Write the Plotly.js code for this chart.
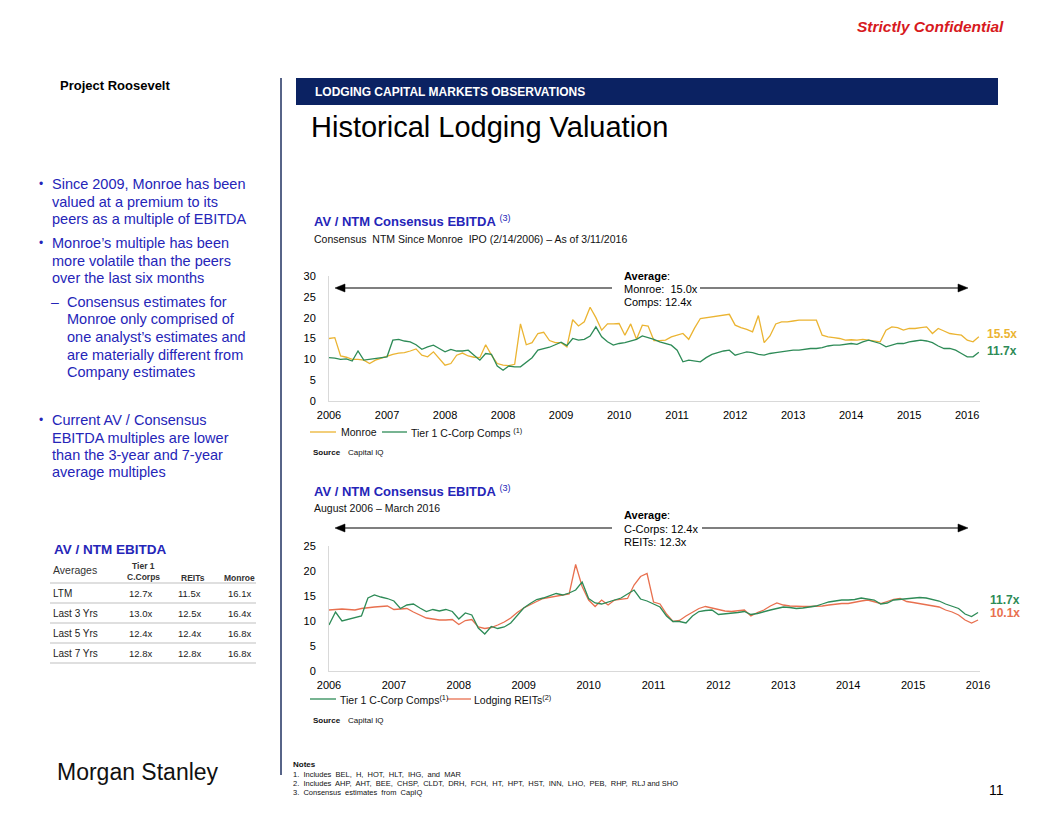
<!DOCTYPE html>
<html><head><meta charset="utf-8">
<script src="https://cdn.plot.ly/plotly-3.0.1.min.js"></script>
<style>html,body{margin:0;padding:0;background:#fff}#chart{width:1056px;height:816px}</style>
</head><body><div id="chart"></div>
<script>
// ---------- DATA ----------
const topTickLabels = ["2006","2007","2008","2008","2009","2010","2011","2012","2013","2014","2015","2016"];
const bottomTickLabels = ["2006","2007","2008","2009","2010","2011","2012","2013","2014","2015","2016"];

// Top chart: AV / NTM consensus EBITDA, sampled every 0.1 of a tick interval
const monroe = [
 15.0,15.2,10.8,10.5,10.0,10.0,9.8,9.0,9.8,10.3,
 10.8,11.2,11.5,11.6,12.0,12.5,11.0,10.6,11.8,10.2,
 8.6,9.0,11.0,11.5,10.8,10.5,10.4,13.5,11.0,9.0,
 8.6,8.5,8.8,18.5,13.5,14.0,16.2,16.5,14.5,14.0,
 14.0,13.0,19.5,18.0,19.0,22.5,20.0,17.0,18.5,18.5,
 18.6,15.8,18.5,14.8,18.2,18.0,14.5,14.5,14.6,15.4,
 15.8,16.2,14.8,17.5,19.8,20.0,20.2,20.4,20.6,20.8,
 18.2,17.6,17.2,16.6,20.5,14.0,15.6,18.5,19.0,19.0,
 19.2,19.4,19.4,19.4,19.4,15.8,15.4,15.2,15.0,14.6,
 14.7,14.6,14.8,14.6,14.4,14.2,17.0,17.8,17.6,17.0,
 17.4,17.4,17.6,17.8,16.2,17.4,16.8,16.2,16.0,15.8,
 14.6,14.2,15.4];
const topComps = [
 10.4,10.3,10.0,10.1,9.6,12.0,9.8,10.0,10.3,10.4,
 10.6,14.6,14.8,14.4,14.2,13.5,12.4,13.0,13.4,12.6,
 11.8,12.4,12.0,12.0,12.2,11.0,9.8,11.4,11.2,8.4,
 7.4,8.4,8.2,8.2,9.4,10.4,12.2,12.6,12.9,13.5,
 14.1,13.3,15.0,14.6,14.8,15.6,17.8,15.4,14.2,13.4,
 13.8,14.0,14.4,14.8,15.6,15.2,14.8,14.2,13.8,13.4,
 12.2,9.4,9.8,9.6,9.4,10.4,11.2,11.6,12.0,12.2,
 11.0,11.4,11.8,11.6,11.2,11.0,11.4,11.6,11.8,12.0,
 12.2,12.2,12.4,12.6,12.6,12.8,13.2,13.4,13.4,13.6,
 13.8,13.6,14.2,14.6,14.2,13.8,13.0,13.4,13.8,13.8,
 14.2,14.4,14.6,14.4,14.0,13.2,12.6,12.6,12.2,11.4,
 10.6,10.6,11.7];

// Bottom chart: Tier 1 C-Corp comps vs Lodging REITs
const cCorps = [
 9.2,11.8,10.0,10.3,10.6,11.0,14.6,15.2,14.8,14.5,
 14.0,12.5,13.2,13.4,12.6,11.9,12.3,12.0,12.3,11.9,
 10.4,11.6,11.2,8.6,7.4,8.9,8.5,8.8,9.6,11.2,
 12.6,13.5,14.3,14.6,15.0,15.5,15.2,15.6,16.2,17.8,
 14.5,13.6,13.4,13.8,14.2,14.6,15.4,16.2,14.4,14.0,
 13.4,12.8,11.0,9.9,9.9,9.6,11.0,11.9,12.1,12.2,
 11.3,11.4,11.5,11.7,11.9,11.3,11.5,11.9,12.2,12.5,
 12.8,12.7,12.5,12.6,12.8,13.0,13.4,13.8,14.0,14.2,
 14.2,14.3,14.6,14.4,14.2,13.4,13.6,14.2,14.3,14.5,
 14.6,14.7,14.6,14.3,14.0,13.4,12.9,12.5,11.4,10.9,
 11.7];
const reits = [
 12.2,12.3,12.4,12.3,12.2,12.5,12.7,12.8,12.9,13.0,
 12.3,12.4,12.5,11.8,11.2,10.6,10.4,10.2,10.2,10.3,
 9.3,10.1,10.3,8.8,8.5,8.7,9.2,9.8,10.6,11.7,
 12.6,13.3,13.9,14.5,14.7,14.9,15.1,15.4,21.3,16.9,
 14.2,12.9,14.2,13.2,14.2,14.3,14.5,17.2,18.9,19.5,
 13.8,13.4,11.4,9.9,10.1,11.0,11.8,12.5,12.9,12.6,
 12.2,12.0,11.9,12.0,12.2,11.0,11.7,12.2,13.0,13.6,
 13.2,13.0,12.9,12.9,12.9,12.9,13.0,13.2,13.4,13.5,
 13.5,13.8,14.0,14.2,13.8,13.5,13.9,14.3,14.5,13.9,
 13.7,13.5,13.3,13.0,12.8,12.2,11.8,11.2,10.2,9.6,
 10.2];

// Table: AV / NTM EBITDA averages
const tableRowLabels = ["LTM","Last 3 Yrs","Last 5 Yrs","Last 7 Yrs"];
const tableCCorps = ["12.7x","13.0x","12.4x","12.8x"];
const tableREITs  = ["11.5x","12.5x","12.4x","12.8x"];
const tableMonroe = ["16.1x","16.4x","16.8x","16.8x"];

const topAverages = ["Monroe:  15.0x","Comps: 12.4x"];
const bottomAverages = ["C-Corps: 12.4x","REITs: 12.3x"];
const topEndLabels = ["15.5x","11.7x"];
const bottomEndLabels = ["11.7x","10.1x"];

// ---------- STYLE ----------
const W = 1056, H = 816;
const FONT = "Liberation Sans, Arial, sans-serif";
const C_MON = "#EBB432", C_GRN = "#2E8B57", C_RED = "#E8704F";
const BLUE = "#2525B8", NAVY = "#0B2262";
const px = x => x / W, py = y => 1 - y / H;

const anns = [];
function T(text, x, y, size, color, o) {
  o = o || {};
  anns.push(Object.assign({
    text: text, x: px(x), y: py(y), xref: "paper", yref: "paper",
    xanchor: "left", yanchor: "middle", showarrow: false,
    font: {family: FONT, size: size, color: color || "#000"}
  }, o));
}
const shapes = [];
function L(x0, y0, x1, y1, color, w) {
  shapes.push({type: "line", xref: "paper", yref: "paper", x0: px(x0), y0: py(y0), x1: px(x1), y1: py(y1),
    line: {color: color, width: w || 1}});
}
function arrow(xHead, xTail, y) {
  const dir = xTail > xHead ? 1 : -1;
  const back = xHead + dir * 10;
  L(back, y, xTail, y, "#000", 1.2);
  shapes.push({type: "path", xref: "paper", yref: "paper",
    path: "M " + px(xHead) + " " + py(y) + " L " + px(back) + " " + py(y - 4) + " L " + px(back) + " " + py(y + 4) + " Z",
    fillcolor: "#000", line: {color: "#000", width: 0.5}});
}

// page furniture
shapes.push({type: "rect", xref: "paper", yref: "paper", x0: px(296), x1: px(998), y0: py(105), y1: py(78),
  fillcolor: NAVY, line: {width: 0}});
L(281, 78, 281, 775, "#1F3161", 1.5);
T("<b><i>Strictly Confidential</i></b>", 1006, 26, 15.5, "#D71920", {xanchor: "right"});
T("<b>Project Roosevelt</b>", 58, 86, 13, "#000");
T("<b>LODGING CAPITAL MARKETS OBSERVATIONS</b>", 313, 92, 12, "#fff");
T("Historical Lodging Valuation", 309, 127, 29, "#000");
T("Morgan Stanley", 55, 772, 23, "#111");
T("11", 1006, 790, 14, "#000", {xanchor: "right"});

// left bullets
const bulletLines = [
  ["•", "Since 2009, Monroe has been", 184, 0],
  ["", "valued at a premium to its", 202, 0],
  ["", "peers as a multiple of EBITDA", 219, 0],
  ["•", "Monroe’s multiple has been", 243, 0],
  ["", "more volatile than the peers", 261, 0],
  ["", "over the last six months", 278, 0],
  ["–", "Consensus estimates for", 302, 1],
  ["", "Monroe only comprised of", 319, 1],
  ["", "one analyst’s estimates and", 337, 1],
  ["", "are materially different from", 355, 1],
  ["", "Company estimates", 372, 1],
  ["•", "Current AV / Consensus", 420, 0],
  ["", "EBITDA multiples are lower", 438, 0],
  ["", "than the 3-year and 7-year", 455, 0],
  ["", "average multiples", 472, 0]
];
bulletLines.forEach(b => {
  const indent = b[3] ? 15 : 0;
  if (b[0]) T(b[0], b[3] ? 49 : 37, b[2], b[3] ? 14 : 12, BLUE);
  T(b[1], 50 + indent, b[2], 14.5, BLUE);
});

// table
T("<b>AV / NTM EBITDA</b>", 52, 549, 13.5, BLUE);
T("Averages", 51, 570, 10.5, "#333");
T("<b>Tier 1</b>", 143, 566, 8.5, "#333", {xanchor: "center"});
T("<b>C.Corps</b>", 143, 577, 8.5, "#333", {xanchor: "center"});
T("<b>REITs</b>", 193, 578, 8.5, "#333", {xanchor: "center"});
T("<b>Monroe</b>", 239, 578, 8.5, "#333", {xanchor: "center"});
L(50, 583, 256, 583, "#BFBFBF", 1);
tableRowLabels.forEach((lab, i) => {
  const y = 593 + i * 20;
  T(lab, 51, y, 10, "#222");
  T(tableCCorps[i], 154, y, 9.5, "#222", {xanchor: "right"});
  T(tableREITs[i], 203, y, 9.5, "#222", {xanchor: "right"});
  T(tableMonroe[i], 253, y, 9.5, "#222", {xanchor: "right"});
  L(50, 603 + i * 20, 256, 603 + i * 20, "#BFBFBF", 1);
});

// top chart text
T("<b>AV / NTM Consensus EBITDA</b> <sup>(3)</sup>", 312, 221, 13, BLUE);
T("Consensus  NTM Since Monroe  IPO (2/14/2006) – As of 3/11/2016", 312, 239, 10.5, "#111");
T("<b>Average</b>:", 622, 276, 11, "#000");
T(topAverages[0], 622, 289, 11, "#000");
T(topAverages[1], 622, 302, 11, "#000");
arrow(335, 612, 288);
arrow(968, 700, 288);
T("<b>" + topEndLabels[0] + "</b>", 985, 334, 12, C_MON);
T("<b>" + topEndLabels[1] + "</b>", 985, 351, 12, C_GRN);
L(310, 432, 336, 432, C_MON, 1.3);
T("Monroe", 339, 432, 10.5, "#111");
L(382, 432, 407, 432, C_GRN, 1.3);
T("Tier 1 C-Corp Comps <sup>(1)</sup>", 409, 432, 10.5, "#111");
T("<b>Source</b>", 311, 452, 8, "#111");
T("Capital IQ", 346, 452, 8, "#111");

// bottom chart text
T("<b>AV / NTM Consensus EBITDA</b> <sup>(3)</sup>", 312, 491, 13, BLUE);
T("August 2006 – March 2016", 312, 508, 10.5, "#111");
T("<b>Average</b>:", 622, 515, 11, "#000");
T(bottomAverages[0], 622, 529, 11, "#000");
T(bottomAverages[1], 622, 542, 11, "#000");
arrow(335, 612, 528);
arrow(968, 702, 528);
T("<b>" + bottomEndLabels[0] + "</b>", 988, 600, 12, C_GRN);
T("<b>" + bottomEndLabels[1] + "</b>", 988, 613, 12, C_RED);
L(310, 699, 336, 699, C_GRN, 1.3);
T("Tier 1 C-Corp Comps<sup>(1)</sup>", 338, 699, 10.5, "#111");
L(447, 699, 471, 699, C_RED, 1.3);
T("Lodging REITs<sup>(2)</sup>", 472, 699, 10.5, "#111");
T("<b>Source</b>", 311, 720, 8, "#111");
T("Capital IQ", 346, 720, 8, "#111");

// notes
T("<b>Notes</b>", 291, 764, 8, "#111");
T("1.  Includes  BEL,  H,  HOT,  HLT,  IHG,  and  MAR", 291, 774, 7.5, "#111");
T("2.  Includes  AHP,  AHT,  BEE,  CHSP,  CLDT,  DRH,  FCH,  HT,  HPT,  HST,  INN,  LHO,  PEB,  RHP,  RLJ and SHO", 291, 783, 7.5, "#111");
T("3.  Consensus  estimates  from  CapIQ", 291, 792, 7.5, "#111");

// ---------- TRACES ----------
const line = (y, color, xa, ya) => ({type: "scatter", mode: "lines", x0: 0, dx: 0.1, y: y,
  xaxis: xa, yaxis: ya, line: {color: color, width: 1.3}, hoverinfo: "skip", showlegend: false});
const traces = [
  line(monroe, C_MON, "x", "y"),
  line(topComps, C_GRN, "x", "y"),
  line(reits, C_RED, "x2", "y2"),
  line(cCorps, C_GRN, "x2", "y2")
];

const axisBase = {showline: true, linecolor: "#D9D9D9", linewidth: 1, showgrid: false, zeroline: false,
  ticks: "", tickfont: {family: FONT, size: 11, color: "#000"}, fixedrange: true};
const xBase = Object.assign({}, axisBase, {ticklabelstandoff: 4});
const yBase = Object.assign({}, axisBase, {ticklabelstandoff: 10});
const layout = {
  width: W, height: H, margin: {l: 0, r: 0, t: 0, b: 0},
  paper_bgcolor: "#fff", plot_bgcolor: "#fff", showlegend: false,
  font: {family: FONT},
  xaxis: Object.assign({}, xBase, {domain: [px(329), px(980)], range: [0, 11.22],
    tickvals: topTickLabels.map((_, i) => i), ticktext: topTickLabels, anchor: "y"}),
  yaxis: Object.assign({}, yBase, {domain: [py(401), py(276)], range: [0, 30], dtick: 5, anchor: "x"}),
  xaxis2: Object.assign({}, xBase, {domain: [px(329), px(980)], range: [0, 10.03],
    tickvals: bottomTickLabels.map((_, i) => i), ticktext: bottomTickLabels, anchor: "y2"}),
  yaxis2: Object.assign({}, yBase, {domain: [py(671), py(546)], range: [0, 25], dtick: 5, anchor: "x2"}),
  annotations: anns, shapes: shapes
};
Plotly.newPlot("chart", traces, layout, {staticPlot: true, displayModeBar: false});
</script></body></html>
